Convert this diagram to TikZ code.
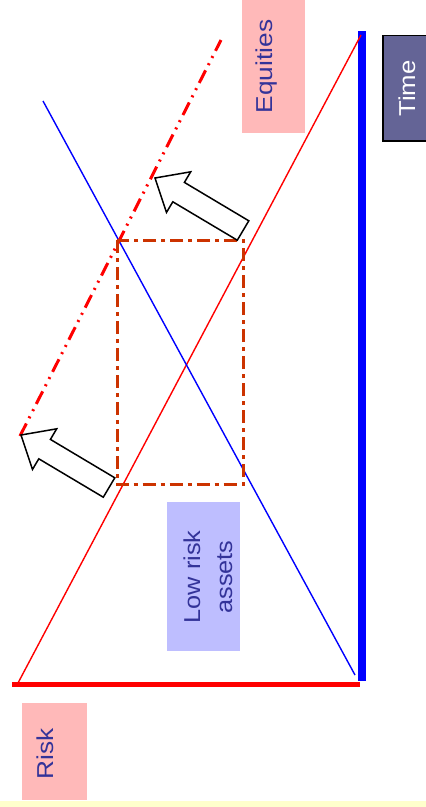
\documentclass[tikz,border=0pt]{standalone}
\usepackage{fontspec}
\setmainfont{Liberation Sans}
\usepackage{graphicx}
\definecolor{pinkbox}{RGB}{255,185,185}
\definecolor{lavbox}{RGB}{190,190,255}
\definecolor{timebox}{RGB}{100,100,150}
\definecolor{lbltext}{RGB}{51,51,153}
\definecolor{stripyellow}{RGB}{255,255,204}
\definecolor{rectorange}{RGB}{204,51,0}
\tikzset{
  lbl/.style={rotate=90, inner sep=0pt, font=\fontsize{23}{32}\selectfont, text=lbltext},
  thinred/.style={draw=red, line width=1.4pt},
  thinblue/.style={draw=blue, line width=1.4pt},
  dashdotdot/.style={draw=red, line width=3pt, dash pattern=on 14pt off 6pt on 2pt off 6pt on 2pt off 6pt},
  dashdotrect/.style={draw=rectorange, line width=3pt, dash pattern=on 13pt off 5pt on 4pt off 5pt},
  blockarrow/.style={draw=black, fill=white, line width=1.5pt, line join=miter},
}
\begin{document}
\begin{tikzpicture}[x=1pt,y=-1pt]
\clip (0,0) rectangle (426,807);
\fill[white] (0,0) rectangle (426,807);
% bottom strip
\fill[stripyellow] (0,801) rectangle (426,807);
% boxes
\fill[pinkbox] (242,0) rectangle (305,133);
\fill[pinkbox] (22,703) rectangle (87,800);
\fill[lavbox] (167,502) rectangle (240,651);
\filldraw[fill=timebox, draw=black, line width=1.5pt] (383,35.5) rectangle (440,141);
% labels
\node[lbl, anchor=base] (equities) at (272.5,66.5) {\scalebox{1.14}[1]{Equities}};
\node[lbl, anchor=base, text=white] (time) at (415,88.5) {\scalebox{1.12}[1]{Time}};
\node[lbl, anchor=base] (risk) at (53,754) {\scalebox{1.14}[1]{Risk}};
\node[lbl, anchor=center, align=center] (lowrisk) at (208,577) {\scalebox{1.1}[1]{Low risk}\\\scalebox{1.1}[1]{assets}};
% axes
\coordinate (origin) at (362,684.5);
\coordinate (riskend) at (12,684.5);
\coordinate (timeend) at (362,31);
\draw[red, line width=5pt] (riskend) -- (360,684.5);
\draw[blue, line width=7.5pt] (timeend) -- (362,681);
% thin lines
\coordinate (r1) at (18,683);
\coordinate (r2) at (361,35);
\draw[thinred] (r1) -- (r2);
\coordinate (b1) at (43,101);
\coordinate (b2) at (355,675);
\draw[thinblue] (b1) -- (b2);
% dash dot dot
\coordinate (d1) at (20,436);
\coordinate (d2) at (221,40);
\draw[dashdotdot] (d1) -- (d2);
% rectangle
\draw[dashdotrect] (117,240) rectangle (243,484.5);
% block arrows
\draw[blockarrow] (21,435) -- (56.7,428.8) -- (50.4,439.4) -- (114.8,477.8) -- (103.3,497.2) -- (38.8,458.8) -- (32.5,469.4) -- cycle;
\draw[blockarrow] (155,178) -- (190.7,171.8) -- (184.4,182.4) -- (248.8,220.8) -- (237.3,240.2) -- (172.8,201.8) -- (166.5,212.4) -- cycle;
\end{tikzpicture}
\end{document}
